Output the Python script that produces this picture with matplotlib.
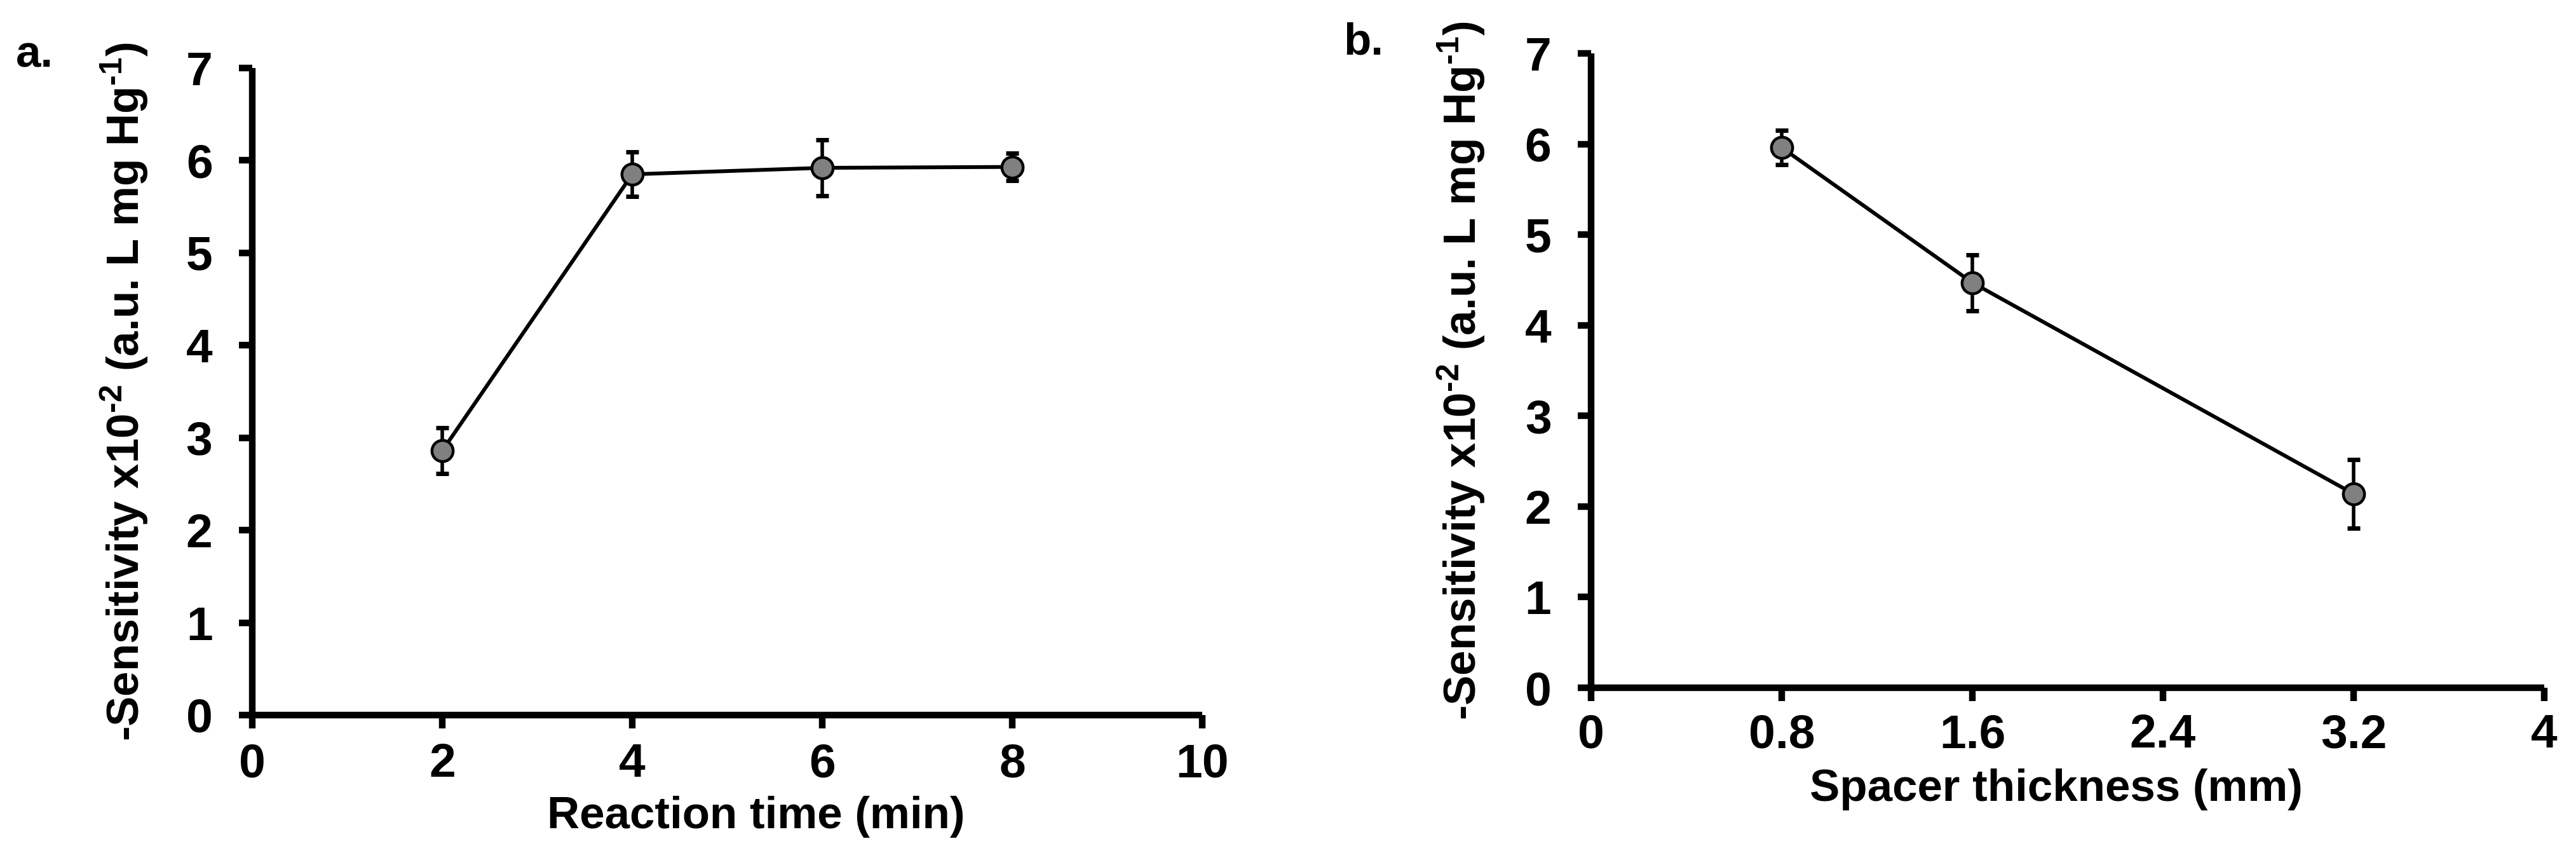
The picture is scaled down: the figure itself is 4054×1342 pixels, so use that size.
import matplotlib
matplotlib.use("Agg")
import matplotlib.pyplot as plt

# ---- data ----
time_min = [2, 4, 6, 8]
sens_time = [2.86, 5.85, 5.92, 5.93]
err_time = [0.25, 0.24, 0.30, 0.15]

spacer_mm = [0.8, 1.6, 3.2]
sens_spacer = [5.96, 4.47, 2.14]
err_spacer = [0.19, 0.31, 0.38]

xticks_a = [0, 2, 4, 6, 8, 10]
xticks_b = [0, 0.8, 1.6, 2.4, 3.2, 4]
xticklabels_b = ["0", "0.8", "1.6", "2.4", "3.2", "4"]
yticks = [0, 1, 2, 3, 4, 5, 6, 7]

ylabel = "-Sensitivity x10$^{\u20102}$ (a.u. L mg Hg$^{\u20101}$)"
xlabel_a = "Reaction time (min)"
xlabel_b = "Spacer thickness (mm)"

plt.rcParams["font.family"] = ["Liberation Sans", "DejaVu Sans"]
plt.rcParams["font.weight"] = "bold"
plt.rcParams["mathtext.fontset"] = "custom"
plt.rcParams["mathtext.rm"] = "Liberation Sans:bold"
plt.rcParams["mathtext.bf"] = "Liberation Sans:bold"
plt.rcParams["mathtext.it"] = "Liberation Sans:bold"

W, H = 4054, 1342
fig = plt.figure(figsize=(W / 100, H / 100), dpi=100)

ax_a = fig.add_axes([397 / W, 1 - 1125 / H, 1495 / W, (1125 - 107) / H])
ax_b = fig.add_axes([2504 / W, 1 - 1082 / H, 1500 / W, (1082 - 84) / H])

TICK_FS = 54
LABEL_FS = 51
SPINE_LW = 7.5


def style(ax, xticks, xticklabels, xlim, xpad):
    for s in ["top", "right"]:
        ax.spines[s].set_visible(False)
    for s in ["left", "bottom"]:
        ax.spines[s].set_linewidth(SPINE_LW)
        ax.spines[s].set_capstyle("butt")
    ax.set_xlim(*xlim)
    ax.set_ylim(0, 7)
    ax.set_xticks(xticks)
    ax.set_xticklabels(xticklabels)
    ax.set_yticks(yticks)
    ax.tick_params(axis="both", direction="out", length=15, width=SPINE_LW,
                   labelsize=TICK_FS)
    ax.tick_params(axis="x", pad=xpad)
    ax.tick_params(axis="y", pad=30)
    for lab in ax.get_xticklabels() + ax.get_yticklabels():
        lab.set_fontweight("bold")


def draw(ax, x, y, e):
    ax.errorbar(x, y, yerr=e, fmt="none", ecolor="black", elinewidth=4,
                capsize=7, capthick=5, zorder=2, clip_on=False)
    ax.plot(x, y, "-o", color="black", lw=4.3, markersize=24,
            markerfacecolor="#808080", markeredgecolor="black",
            markeredgewidth=3.2, zorder=3, clip_on=False)


draw(ax_a, time_min, sens_time, err_time)
draw(ax_b, spacer_mm, sens_spacer, err_spacer)

style(ax_a, xticks_a, [str(v) for v in xticks_a], (0, 10), 16)
style(ax_b, xticks_b, xticklabels_b, (0, 4), 14)

ax_a.set_xlabel(xlabel_a, fontsize=LABEL_FS, fontweight="bold", va="center")
ax_a.xaxis.set_label_coords(0.530, -0.157)
ax_b.set_xlabel(xlabel_b, fontsize=LABEL_FS, fontweight="bold", va="center")
ax_b.xaxis.set_label_coords(0.488, -0.160)

ax_a.set_ylabel(ylabel, fontsize=LABEL_FS, fontweight="bold", va="center")
ax_a.yaxis.set_label_coords(-0.135, 0.5)
ax_b.set_ylabel(ylabel, fontsize=LABEL_FS, fontweight="bold", va="center")
ax_b.yaxis.set_label_coords(-0.136, 0.5)

fig.text(25 / W, 1 - 105 / H, "a.", fontsize=LABEL_FS, fontweight="bold",
         ha="left", va="baseline")
fig.text(2114 / W, 1 - 85 / H, "b.", fontsize=LABEL_FS, fontweight="bold",
         ha="left", va="baseline")

fig.savefig("out.png", dpi=100, facecolor="white")
